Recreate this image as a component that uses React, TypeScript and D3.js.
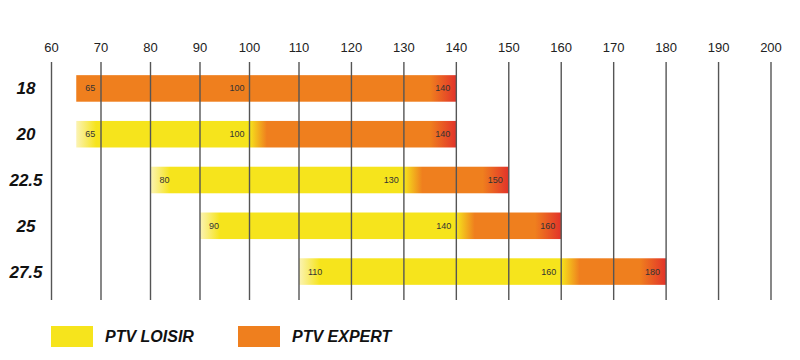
import React from "react";
import * as d3 from "d3";

const sizes = ["18", "20", "22.5", "25", "27.5"];
const loisirStart = [65, 65, 80, 90, 110];
const loisirEnd: (number | null)[] = [null, 100, 130, 140, 160];
const expertEnd = [140, 140, 150, 160, 180];
const midLabels = [100, 100, 130, 140, 160];
const ticks = [60, 70, 80, 90, 100, 110, 120, 130, 140, 150, 160, 170, 180, 190, 200];
const legendItems = ["PTV LOISIR", "PTV EXPERT"];

const YELLOW = "#f6e41c";
const PALE = "#fbf3b5";
const ORANGE = "#ef7f1e";
const RED = "#e2322a";

export default function App() {
  const x = d3.scaleLinear().domain([60, 110, 200]).range([51.5, 299, 771]);
  const y = d3.scaleBand<string>().domain(sizes).range([66, 294]).paddingInner(0.42).paddingOuter(0.2);
  const font = "'Liberation Sans', Arial, Helvetica, sans-serif";
  return (
    <svg width={800} height={360} style={{ position: "absolute", left: 0, top: 0, background: "#fff" }} fontFamily={font}>
      <defs>
        {sizes.map((s, i) => {
          const x0 = x(loisirStart[i]);
          const x1 = x(expertEnd[i]);
          const w = x1 - x0;
          const off = (v: number) => Math.max(0, Math.min(1, (x(v) - x0) / w));
          const le = loisirEnd[i];
          return (
            <linearGradient key={s} id={`g${i}`} gradientUnits="userSpaceOnUse" x1={x0} x2={x1} y1={0} y2={0}>
              {le === null ? (
                <>
                  <stop offset={0} stopColor={ORANGE} />
                  <stop offset={off(expertEnd[i] - 5)} stopColor={ORANGE} />
                  <stop offset={1} stopColor={RED} />
                </>
              ) : (
                <>
                  <stop offset={0} stopColor={PALE} />
                  <stop offset={off(loisirStart[i] + 4)} stopColor={YELLOW} />
                  <stop offset={off(le)} stopColor={YELLOW} />
                  <stop offset={off(le + 3.5)} stopColor={ORANGE} />
                  <stop offset={off(expertEnd[i] - 5)} stopColor={ORANGE} />
                  <stop offset={1} stopColor={RED} />
                </>
              )}
            </linearGradient>
          );
        })}
      </defs>
      {sizes.map((s, i) => {
        const yy = y(s)!;
        const h = y.bandwidth();
        return (
          <rect key={s} x={x(loisirStart[i])} y={yy} width={x(expertEnd[i]) - x(loisirStart[i])} height={h} fill={`url(#g${i})`} />
        );
      })}
      {ticks.map((t) => (
        <g key={t}>
          <text x={x(t)} y={52} textAnchor="middle" fontSize={13} fill="#222">{t}</text>
          <line x1={x(t)} x2={x(t)} y1={62} y2={300} stroke="#555" strokeWidth={1.4} />
        </g>
      ))}
      {sizes.map((s, i) => {
        const yy = y(s)!;
        const h = y.bandwidth();
        const cy = yy + h / 2;
        return (
          <g key={s}>
            <text x={26} y={cy + 6} textAnchor="middle" fontSize={17} fontWeight="bold" fontStyle="italic" fill="#111">{s}</text>
            <text x={x(loisirStart[i]) + 9} y={cy + 3} fontSize={9} fill="#333">{loisirStart[i]}</text>
            <text x={x(midLabels[i]) - 5} y={cy + 3} fontSize={9} textAnchor="end" fill="#333">{midLabels[i]}</text>
            <text x={x(expertEnd[i]) - 6} y={cy + 3} fontSize={9} textAnchor="end" fill="#333">{expertEnd[i]}</text>
          </g>
        );
      })}
      {legendItems.map((l, i) => {
        const lx = i === 0 ? 51 : 238;
        return (
          <g key={l}>
            <rect x={lx} y={326} width={42} height={21} fill={i === 0 ? YELLOW : ORANGE} />
            <text x={lx + 54} y={342} fontSize={16} fontWeight="bold" fontStyle="italic" fill="#111">{l}</text>
          </g>
        );
      })}
    </svg>
  );
}
